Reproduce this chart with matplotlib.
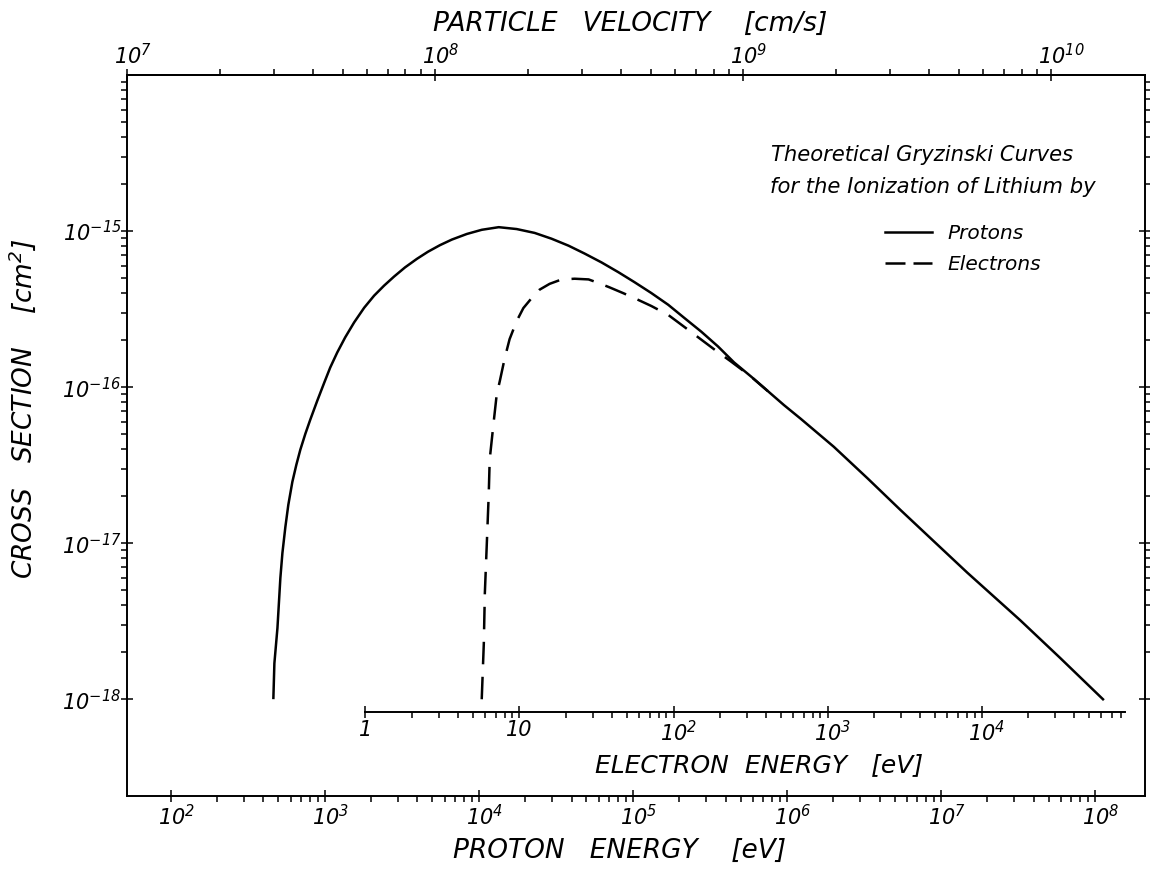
import numpy as np
import matplotlib
matplotlib.use("Agg")
import matplotlib.pyplot as plt
from matplotlib.lines import Line2D
from matplotlib.ticker import FixedLocator, FixedFormatter, NullFormatter
from matplotlib.transforms import ScaledTranslation

# Gryzinski ionization cross sections of lithium [cm^2]
proton_energy = [464, 471, 493, 515, 531, 555, 580, 616, 654, 694, 748, 805, 894, 993,
                 1085, 1205, 1357, 1552, 1802, 2091, 2427, 2818, 3319, 3968, 4677,
                 5593, 6687, 8363, 1.046e4, 1.347e4, 1.762e4, 2.304e4, 2.969e4,
                 3.824e4, 4.855e4, 6.254e4, 8.055e4, 1.023e5, 1.317e5, 1.697e5,
                 2.154e5, 2.776e5, 3.576e5, 4.539e5, 5.848e5, 7.534e5, 9.56e5,
                 1.232e6, 2.015e6, 3.344e6, 5.47e6, 8.94e6, 1.484e7, 3.27e7, 5.94e7,
                 1.127e8]
proton_sigma = [1.02e-18, 1.70e-18, 2.86e-18, 5.98e-18, 8.65e-18, 1.27e-17, 1.76e-17,
                2.47e-17, 3.18e-17, 3.97e-17, 5.02e-17, 6.18e-17, 8.18e-17, 1.07e-16,
                1.335e-16, 1.667e-16, 2.083e-16, 2.60e-16, 3.225e-16, 3.855e-16, 4.47e-16,
                5.11e-16, 5.85e-16, 6.64e-16, 7.37e-16, 8.12e-16, 8.82e-16, 9.58e-16,
                1.019e-15, 1.059e-15, 1.030e-15, 9.73e-16, 8.93e-16, 8.06e-16, 7.18e-16,
                6.30e-16, 5.45e-16, 4.71e-16, 4.01e-16, 3.37e-16, 2.78e-16, 2.27e-16,
                1.82e-16, 1.44e-16, 1.17e-16, 9.42e-17, 7.68e-17, 6.26e-17, 4.15e-17,
                2.60e-17, 1.63e-17, 1.034e-17, 6.47e-18, 3.21e-18, 1.84e-18, 1.0e-18]

electron_energy = [5.69, 5.87, 5.96, 6.14, 6.32, 6.41, 6.81, 7.12, 7.45, 8.02, 8.63,
                   9.59, 10.6, 12.0, 13.5, 15.7, 18.7, 22.8, 28.1, 33.1, 38.4, 47.2,
                   55.7, 71.8, 92.5, 117, 151, 189, 236, 318, 410]
electron_sigma = [1.0e-18, 2.28e-18, 4.76e-18, 9.98e-18, 2.08e-17, 3.44e-17, 6.04e-17,
                  8.99e-17, 1.09e-16, 1.53e-16, 2.03e-16, 2.65e-16, 3.21e-16, 3.72e-16,
                  4.21e-16, 4.59e-16, 4.89e-16, 4.95e-16, 4.90e-16, 4.62e-16, 4.36e-16,
                  4.00e-16, 3.72e-16, 3.31e-16, 2.90e-16, 2.44e-16, 2.02e-16, 1.71e-16,
                  1.46e-16, 1.17e-16, 9.42e-17]

proton_ticks = [1e2, 1e3, 1e4, 1e5, 1e6, 1e7, 1e8]
proton_labels = ["$10^{2}$", "$10^{3}$", "$10^{4}$", "$10^{5}$", "$10^{6}$", "$10^{7}$", "$10^{8}$"]
velocity_ticks = [1e7, 1e8, 1e9, 1e10]
velocity_labels = ["$10^{7}$", "$10^{8}$", "$10^{9}$", "$10^{10}$"]
electron_ticks = [1, 10, 1e2, 1e3, 1e4]
electron_labels = ["1", "10", "$10^{2}$", "$10^{3}$", "$10^{4}$"]
sigma_ticks = [1e-18, 1e-17, 1e-16, 1e-15]
sigma_labels = ["$10^{-18}$", "$10^{-17}$", "$10^{-16}$", "$10^{-15}$"]

MASS_RATIO = 1836.15       # m_p / m_e, same velocity -> E_p = 1836 E_e
V_PER_SQRT_EV = 1.3841e6   # proton: v [cm/s] = 1.3841e6 * sqrt(E [eV])

plt.rcParams["font.family"] = "DejaVu Sans"
plt.rcParams["font.style"] = "italic"
plt.rcParams["mathtext.fontset"] = "custom"
plt.rcParams["mathtext.rm"] = "DejaVu Sans:italic"
plt.rcParams["mathtext.it"] = "DejaVu Sans:italic"
plt.rcParams["mathtext.default"] = "rm"


def minors(first, last):
    return [k * 10.0 ** n for n in range(first, last + 1) for k in range(2, 10)]


def e_to_v(e):
    return V_PER_SQRT_EV * np.sqrt(np.abs(e))


def v_to_e(v):
    return (np.asarray(v) / V_PER_SQRT_EV) ** 2


def ep_to_ee(e):
    return np.asarray(e) / MASS_RATIO


def ee_to_ep(e):
    return np.asarray(e) * MASS_RATIO


fig = plt.figure(figsize=(11.5, 8.73), dpi=100)
ax = fig.add_axes([0.1104, 0.0882, 0.8852, 0.8259])

ax.plot(proton_energy, proton_sigma, color="black", lw=1.8)
ax.plot(ee_to_ep(electron_energy), electron_sigma, color="black", lw=1.8, dashes=(9, 5))

ax.set_xscale("log")
ax.set_yscale("log")
ax.set_xlim(52.0, 2.11e8)
ax.set_ylim(2.4e-19, 1.0e-14)

for s in ax.spines.values():
    s.set_linewidth(1.4)

# proton energy along the bottom
ax.xaxis.set_major_locator(FixedLocator(proton_ticks))
ax.xaxis.set_major_formatter(FixedFormatter(proton_labels))
ax.xaxis.set_minor_locator(FixedLocator(minors(2, 7)))
ax.xaxis.set_minor_formatter(NullFormatter())

ax.yaxis.set_major_locator(FixedLocator(sigma_ticks))
ax.yaxis.set_major_formatter(FixedFormatter(sigma_labels))
ax.yaxis.set_minor_locator(FixedLocator(minors(-18, -15)))
ax.yaxis.set_minor_formatter(NullFormatter())

ax.tick_params(which="both", top=False, right=True, width=1.1, labelsize=15)
ax.tick_params(which="major", direction="inout", length=8, pad=2)
ax.tick_params(which="minor", direction="out", length=4)
ax.tick_params(axis="y", which="major", pad=0)

ax.set_xlabel("PROTON   ENERGY    [eV]", fontsize=19)
ax.xaxis.set_label_coords(0.4843, -0.058, transform=ax.transAxes)
ax.set_ylabel("CROSS   SECTION    [cm$^{2}$]", fontsize=19)
ax.yaxis.set_label_coords(-0.0874, 0.537, transform=ax.transAxes)

# particle velocity along the top
top = ax.secondary_xaxis("top", functions=(e_to_v, v_to_e))
top.xaxis.set_major_locator(FixedLocator(velocity_ticks))
top.xaxis.set_major_formatter(FixedFormatter(velocity_labels))
top.xaxis.set_minor_locator(FixedLocator(minors(7, 9)))
top.xaxis.set_minor_formatter(NullFormatter())
top.spines["top"].set_linewidth(1.4)
top.tick_params(which="both", width=1.1, labelsize=15)
top.tick_params(which="major", direction="inout", length=8, pad=1)
top.tick_params(which="minor", direction="out", length=4)
top.set_xlabel("PARTICLE   VELOCITY    [cm/s]", fontsize=19)
top.xaxis.set_label_coords(0.494, 1.061, transform=ax.transAxes)

# electron energy scale inside the frame
inner = ax.secondary_xaxis(0.1165, functions=(ep_to_ee, ee_to_ep))
inner.xaxis.set_major_locator(FixedLocator(electron_ticks))
inner.xaxis.set_major_formatter(FixedFormatter(electron_labels))
inner.xaxis.set_minor_locator(FixedLocator(minors(0, 3) + [2e4, 3e4, 4e4, 5e4, 6e4, 7e4, 8e4]))
inner.xaxis.set_minor_formatter(NullFormatter())
inner.spines["bottom"].set_linewidth(1.4)
inner.spines["bottom"].set_bounds(1.0, 8.5e4)
inner.tick_params(which="both", width=1.1, labelsize=15)
inner.tick_params(which="major", direction="inout", length=8, pad=2)
inner.tick_params(which="minor", direction="out", length=4)
ax.text(0.4597, 0.043, "ELECTRON  ENERGY   [eV]", transform=ax.transAxes,
        fontsize=18, ha="left", va="center")

ax.text(0.6326, 0.889, "Theoretical Gryzinski Curves", transform=ax.transAxes,
        fontsize=15.2, ha="left", va="center")
ax.text(0.6316, 0.8447, "for the Ionization of Lithium by", transform=ax.transAxes,
        fontsize=15.2, ha="left", va="center")
handles = [Line2D([], [], color="black", lw=1.8),
           Line2D([], [], color="black", lw=1.8, dashes=(8, 3.2))]
ax.legend(handles, ["Protons", "Electrons"], loc="upper left",
          bbox_to_anchor=(0.7446, 0.7935), frameon=False, fontsize=14.5,
          handlelength=2.34, handletextpad=0.75, labelspacing=0.62,
          borderpad=0, borderaxespad=0)

# centre the "10" of each power-of-ten label on its tick, exponent hanging right
fig.canvas.draw()
shift = ScaledTranslation(-9.5 / 72, 0, fig.dpi_scale_trans)
power_labels = ax.xaxis.get_majorticklabels() + top.xaxis.get_majorticklabels() \
    + inner.xaxis.get_majorticklabels()[2:]
for lab in power_labels:
    lab.set_horizontalalignment("left")
    lab.set_transform(lab.get_transform() + shift)

fig.savefig("out.png", dpi=100)
